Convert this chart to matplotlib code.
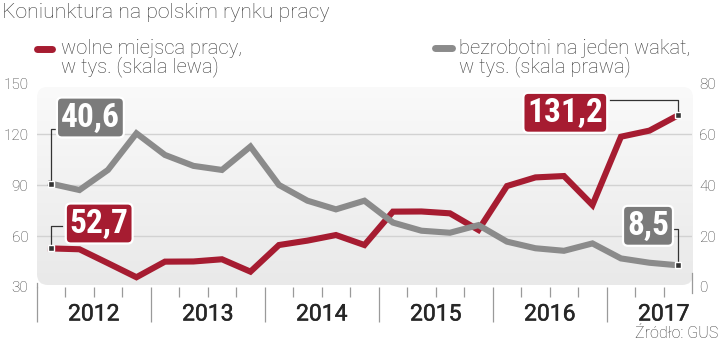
import matplotlib
matplotlib.use('Agg')
import matplotlib.pyplot as plt
import numpy as np
from matplotlib.patches import FancyBboxPatch
from matplotlib.transforms import blended_transform_factory
from matplotlib.colors import LinearSegmentedColormap
from matplotlib.lines import Line2D
from matplotlib import font_manager
import matplotlib.patheffects as pe

# ---------------- data ----------------
title = 'Koniunktura na polskim rynku pracy'
years = ['2012', '2013', '2014', '2015', '2016', '2017']
quarters_per_year = 4
vacancies = [52.7, 52.2, 44.0, 35.7, 44.9, 45.0, 46.3, 39.0, 54.7, 57.3, 60.6, 54.7,
             74.4, 74.5, 73.4, 63.6, 89.5, 94.6, 95.4, 78.3, 118.6, 122.2, 131.2]
unemployed_per_vacancy = [40.6, 38.1, 46.0, 60.4, 51.9, 47.6, 46.0, 55.2, 40.1, 33.9, 30.5, 33.9,
                          25.3, 22.1, 21.3, 24.3, 17.8, 15.2, 14.2, 17.1, 11.2, 9.5, 8.5]
left_ticks = [30, 60, 90, 120, 150]
right_ticks = [0, 20, 40, 60, 80]
legend_red = 'wolne miejsca pracy,\nw tys. (skala lewa)'
legend_gray = 'bezrobotni na jeden wakat,\nw tys. (skala prawa)'
source = 'Źródło: GUS'

# ---------------- fonts ----------------
avail = {f.name for f in font_manager.fontManager.ttflist}
def pick(*names):
    for n in names:
        if n in avail:
            return n
    return 'DejaVu Sans'
base_font = pick('Roboto', 'Liberation Sans', 'DejaVu Sans')
cond_font = pick('Roboto Condensed', 'Liberation Sans Narrow', 'Open Sans', 'Roboto')
plt.rcParams['font.family'] = [base_font, 'DejaVu Sans']

RED = '#a61c31'
GRAY = '#8b8b8b'
GRAYBOX = '#7b7b7b'
TXT = '#3a3a3a'

W, H = 720, 346
fig = plt.figure(figsize=(W / 100, H / 100), dpi=100)

# axes geometry (pixels)
ax_l, ax_r, ax_t, ax_b = 36.7, 692.2, 83.5, 286.9
# background panel
pl, pr, pt, pb = 37, 693, 86.7, 285
bg = fig.add_axes([pl / W, 1 - pb / H, (pr - pl) / W, (pb - pt) / H], zorder=0)
bg.set_xlim(0, pr - pl)
bg.set_ylim(0, pb - pt)
bg.axis('off')
panel = FancyBboxPatch((0, 0), pr - pl, pb - pt, boxstyle='round,pad=0,rounding_size=11',
                       fc='none', ec='none')
bg.add_patch(panel)
cmap = LinearSegmentedColormap.from_list('g', ['#e9e9e9', '#fafafa'])
grad = np.linspace(0, 1, 256).reshape(-1, 1)
im = bg.imshow(grad, cmap=cmap, extent=[0, pr - pl, 0, pb - pt], origin='lower', aspect='auto')
im.set_clip_path(panel)

ax = fig.add_axes([ax_l / W, 1 - ax_b / H, (ax_r - ax_l) / W, (ax_b - ax_t) / H], zorder=1)
ax.patch.set_visible(False)
n = len(vacancies)
x = np.arange(n) + 0.5
ax.set_xlim(0, n)
ax.set_ylim(left_ticks[0], left_ticks[-1])
for s in ax.spines.values():
    s.set_visible(False)

for g in left_ticks[1:-1]:
    ax.axhline(g, color='#d2d2d2', lw=1.0, zorder=1)

ax.plot(x, vacancies, color=RED, lw=4.4, solid_joinstyle='miter', zorder=3, clip_on=False)

ax2 = ax.twinx()
ax2.set_ylim(right_ticks[0], right_ticks[-1])
for s in ax2.spines.values():
    s.set_visible(False)
ax2.plot(x, unemployed_per_vacancy, color=GRAY, lw=4.4, solid_joinstyle='miter', zorder=3, clip_on=False)

# y ticks
ax.set_yticks(left_ticks)
ax.tick_params(axis='y', length=0, pad=6, labelsize=11, labelcolor=TXT)
ax2.set_yticks(right_ticks)
ax2.tick_params(axis='y', length=0, pad=5, labelsize=11, labelcolor=TXT)
for lab in ax.get_yticklabels() + ax2.get_yticklabels():
    lab.set_fontweight('light')

# x ticks: year boundaries and quarters
ax.set_xticks(np.arange(0, n, quarters_per_year))
ax.set_xticks([i for i in range(1, n) if i % quarters_per_year], minor=True)
ax.tick_params(axis='x', which='major', length=25, width=0.9, color='#9a9a9a', labelbottom=False)
ax.tick_params(axis='x', which='minor', length=7.2, width=0.9, color='#9a9a9a', labelbottom=False)
ax2.tick_params(axis='x', which='both', length=0)

bt = blended_transform_factory(ax.transData, ax.transAxes)
# right closing line
ax.plot([n, n], [(ax_b - 273) / (ax_b - ax_t), -(293 - ax_b) / (ax_b - ax_t)], color='#9a9a9a',
        lw=0.9, transform=bt, clip_on=False)
ax.plot([0, 0], [(ax_b - 283) / (ax_b - ax_t), 0], color='#9a9a9a', lw=0.9, transform=bt, clip_on=False)

# year labels
year_y = -(314 - ax_b) / (ax_b - ax_t)
for k, yr in enumerate(years):
    start = k * quarters_per_year
    end = min(start + quarters_per_year, n + 1.4)
    xc = (start + end) / 2
    ax.text(xc, year_y, yr, transform=bt, ha='center', va='center', fontsize=16.5,
            fontweight='normal', color='#262626',
            path_effects=[pe.withStroke(linewidth=0.35, foreground='#262626')])

# markers at the end points
for xi, v in [(x[0], vacancies[0]), (x[-1], vacancies[-1])]:
    ax.plot(xi, v, marker='s', ms=4.5, mfc='#333333', mec='white', mew=1.0, zorder=6, clip_on=False)
for xi, v in [(x[0], unemployed_per_vacancy[0]), (x[-1], unemployed_per_vacancy[-1])]:
    ax2.plot(xi, v, marker='s', ms=4.5, mfc='#333333', mec='white', mew=1.0, zorder=6, clip_on=False)

def fmt(v):
    return f'{v:.1f}'.replace('.', ',')

def px2x(p):
    return (p - ax_l) / (ax_r - ax_l) * n

def py2l(p):
    return left_ticks[-1] - (p - ax_t) / (ax_b - ax_t) * (left_ticks[-1] - left_ticks[0])

def py2r(p):
    return right_ticks[-1] - (p - ax_t) / (ax_b - ax_t) * (right_ticks[-1] - right_ticks[0])

box_kw = dict(boxstyle='round,pad=0.12,rounding_size=0.15', ec='white', lw=1.6)
lab_font = dict(fontsize=24, fontweight='bold', color='white', ha='center', va='center',
                family=[cond_font, 'DejaVu Sans'], zorder=10)

# leader lines + labels
LC = '#333333'
ax2.plot([x[0], x[0], px2x(56.7)], [unemployed_per_vacancy[0], py2r(129), py2r(129)], color=LC, lw=0.9, zorder=5, clip_on=False)
ax2.text(px2x(90.4), py2r(117.5), fmt(unemployed_per_vacancy[0]), bbox=dict(fc=GRAYBOX, **box_kw), **lab_font)
ax.plot([x[0], x[0], px2x(61.7)], [vacancies[0], py2l(225.7), py2l(225.7)], color=LC, lw=0.9, zorder=5, clip_on=False)
ax2.text(px2x(99.2), py2r(223.5), fmt(vacancies[0]), bbox=dict(fc=RED, **box_kw), **lab_font)
ax.plot([x[-1], x[-1], px2x(610)], [vacancies[-1], py2l(100), py2l(100)], color=LC, lw=0.9, zorder=5, clip_on=False)
ax2.text(px2x(565.3), py2r(112.8), fmt(vacancies[-1]), bbox=dict(fc=RED, **box_kw), **lab_font)
ax2.plot([x[-1], x[-1], px2x(671.7)], [unemployed_per_vacancy[-1], py2r(229.3), py2r(229.3)], color=LC, lw=0.9, zorder=5, clip_on=False)
ax2.text(px2x(648), py2r(225.8), fmt(unemployed_per_vacancy[-1]), bbox=dict(fc=GRAYBOX, **box_kw), **lab_font)

# title
fig.text(2 / W, 1 - 13 / H, title, ha='left', va='center', fontsize=15.3, fontweight='light', color=TXT)

# legend
for (x0, x1, yy, col) in [(37, 52, 49, RED), (435, 452, 48, GRAY)]:
    fig.add_artist(Line2D([x0 / W, x1 / W], [1 - yy / H, 1 - yy / H], color=col, lw=5,
                          solid_capstyle='round', transform=fig.transFigure))
fig.text(61 / W, 1 - 58 / H, legend_red, ha='left', va='center', fontsize=14.5, fontweight='light',
         color=TXT, linespacing=0.85)
fig.text(459 / W, 1 - 58 / H, legend_gray, ha='left', va='center', fontsize=14.5, fontweight='light',
         color=TXT, linespacing=0.85)

# source
fig.text(718 / W, 1 - 334 / H, source, ha='right', va='center', fontsize=11.5, fontweight='light', color=TXT)

fig.savefig('out.png', dpi=100)
